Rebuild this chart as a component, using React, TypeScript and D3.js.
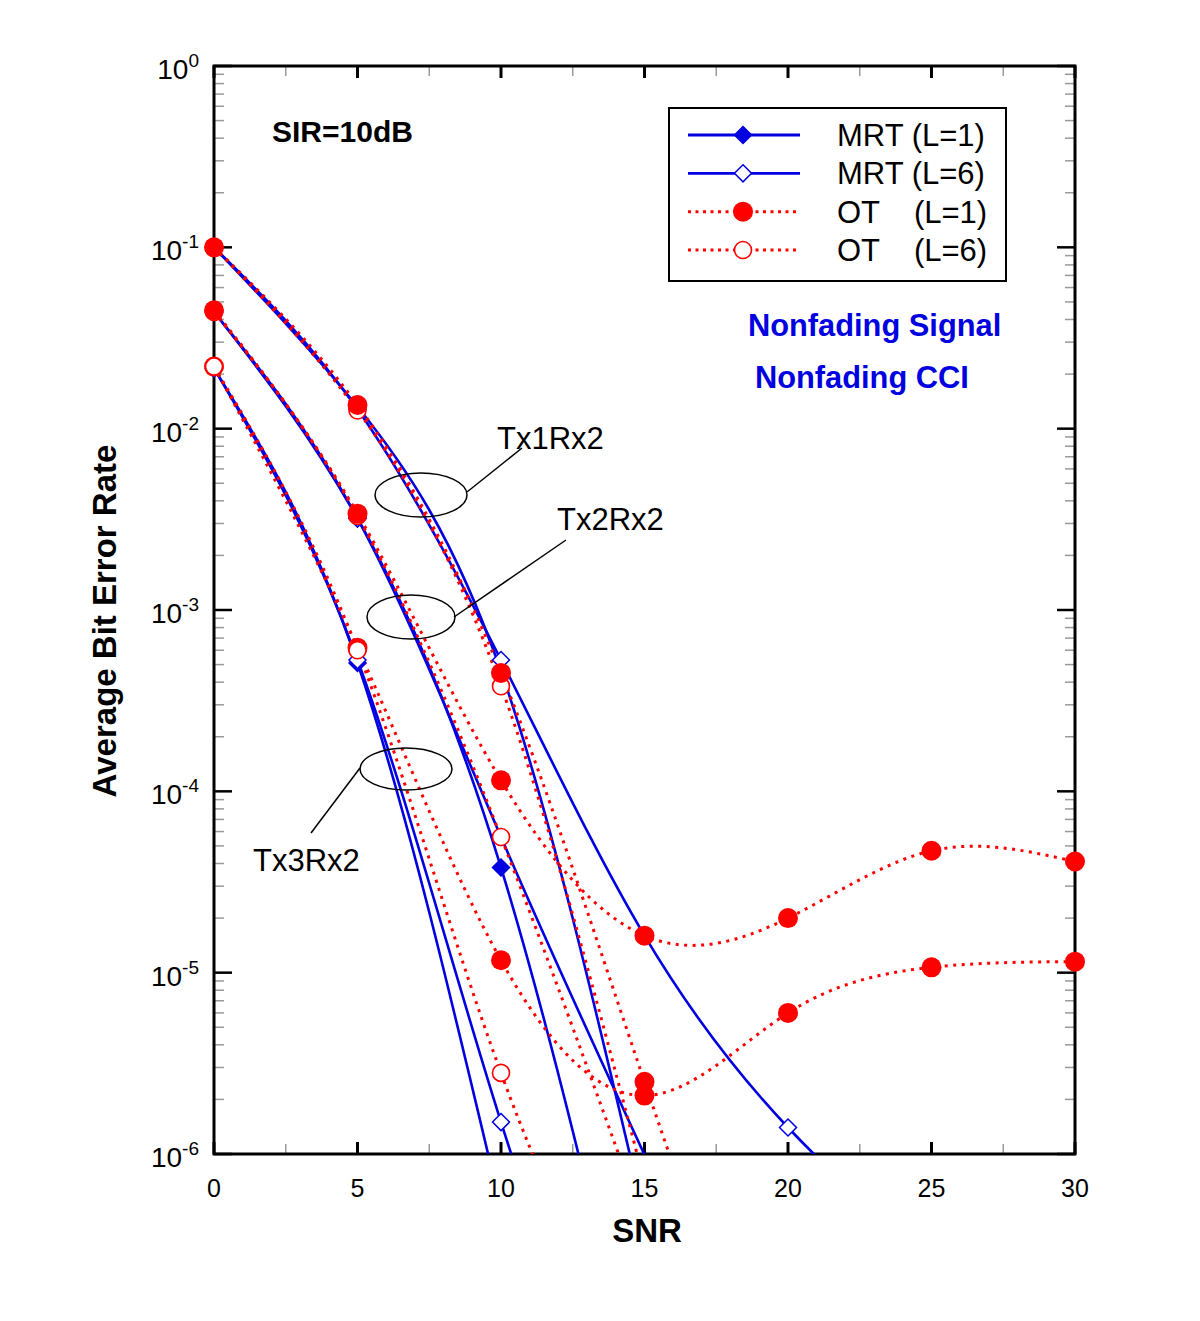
import React, { useEffect, useRef } from "react"
import * as d3 from "d3"

// SNR grid (dB) shared by all curves
const snr = [0, 5, 10, 15, 20, 25, 30]

// Tx1Rx2
const mrtL1Tx1 = [0.1, 0.0132, 4.6e-4, 4.5e-7]
const mrtL6Tx1 = [0.1, 0.0128, 5.3e-4, 1.6e-5, 1.4e-6, 2.6e-7]
const otL1Tx1 = [0.1, 0.0135, 4.5e-4, 2.5e-6, 1.5e-8]
const otL6Tx1 = [0.1, 0.0126, 3.8e-4, 7e-7]

// Tx2Rx2
const mrtL1Tx2 = [0.044, 0.0032, 3.8e-5, 3.0e-8]
const mrtL6Tx2 = [0.044, 0.0032, 5.6e-5, 9.9e-7]
const otL1Tx2 = [0.045, 0.0034, 1.15e-4, 1.6e-5, 2.0e-5, 4.7e-5, 4.1e-5]
const otL6Tx2 = [0.044, 0.0033, 5.6e-5, 4e-7]

// Tx3Rx2
const mrtL1Tx3 = [0.0215, 5.1e-4, 5e-7]
const mrtL6Tx3 = [0.0215, 5.3e-4, 1.5e-6, 1e-8]
const otL1Tx3 = [0.022, 6.2e-4, 1.17e-5, 2.1e-6, 6.0e-6, 1.07e-5, 1.15e-5]
const otL6Tx3 = [0.022, 6.0e-4, 2.8e-6, 5e-8]

const legendLabels = ["MRT (L=1)", "MRT (L=6)", "OT    (L=1)", "OT    (L=6)"]
const xTicks = [0, 5, 10, 15, 20, 25, 30]
const yExponents = [0, -1, -2, -3, -4, -5, -6]

type Kind = "mrt1" | "mrt6" | "ot1" | "ot6"

const BLUE = "#0000e0"
const RED = "#ff0000"
const FONT = "'Liberation Sans', Arial, Helvetica, sans-serif"

const series: { kind: Kind; values: number[] }[] = [
    { kind: "mrt1", values: mrtL1Tx1 },
    { kind: "mrt6", values: mrtL6Tx1 },
    { kind: "mrt1", values: mrtL1Tx2 },
    { kind: "mrt6", values: mrtL6Tx2 },
    { kind: "mrt1", values: mrtL1Tx3 },
    { kind: "mrt6", values: mrtL6Tx3 },
    { kind: "ot6", values: otL6Tx1 },
    { kind: "ot1", values: otL1Tx1 },
    { kind: "ot6", values: otL6Tx2 },
    { kind: "ot1", values: otL1Tx2 },
    { kind: "ot1", values: otL1Tx3 },
    { kind: "ot6", values: otL6Tx3 },
]

export default function App() {
    const ref = useRef<SVGSVGElement>(null)

    useEffect(() => {
        if (!ref.current) return
        const svg = d3.select(ref.current)
        svg.selectAll("*").remove()

        const left = 214
        const right = 1075
        const top = 66
        const bottom = 1154

        const x = d3.scaleLinear().domain([0, 30]).range([left, right])
        const y = d3.scaleLog().domain([1e-6, 1]).range([bottom, top])

        // ticks (inward, mirrored on all sides)
        const ticks = svg.append("g")
        const minorY: number[] = []
        for (let e = -6; e < 0; e++) for (let m = 2; m <= 9; m++) minorY.push(m * Math.pow(10, e))
        minorY.forEach((v) => {
            ticks.append("line").attr("x1", left).attr("x2", left + 10).attr("y1", y(v)).attr("y2", y(v)).attr("stroke", "#9a9a9a").attr("stroke-width", 1.5)
            ticks.append("line").attr("x1", right).attr("x2", right - 10).attr("y1", y(v)).attr("y2", y(v)).attr("stroke", "#9a9a9a").attr("stroke-width", 1.5)
        })
        yExponents.forEach((e) => {
            const yy = y(Math.pow(10, e))
            ticks.append("line").attr("x1", left).attr("x2", left + 18).attr("y1", yy).attr("y2", yy).attr("stroke", "#000").attr("stroke-width", 2.5)
            ticks.append("line").attr("x1", right).attr("x2", right - 18).attr("y1", yy).attr("y2", yy).attr("stroke", "#000").attr("stroke-width", 2.5)
            const t = svg.append("text").attr("x", 199).attr("y", yy + 13).attr("text-anchor", "end").attr("font-family", FONT).attr("font-size", 28)
            t.append("tspan").text("10")
            t.append("tspan").attr("dy", -12).attr("font-size", 19).text(String(e))
        })
        d3.range(2.5, 30, 5).forEach((v) => {
            ticks.append("line").attr("x1", x(v)).attr("x2", x(v)).attr("y1", bottom).attr("y2", bottom - 10).attr("stroke", "#9a9a9a").attr("stroke-width", 1.5)
            ticks.append("line").attr("x1", x(v)).attr("x2", x(v)).attr("y1", top).attr("y2", top + 10).attr("stroke", "#9a9a9a").attr("stroke-width", 1.5)
        })
        xTicks.forEach((v) => {
            ticks.append("line").attr("x1", x(v)).attr("x2", x(v)).attr("y1", bottom).attr("y2", bottom - 12).attr("stroke", "#000").attr("stroke-width", 3)
            ticks.append("line").attr("x1", x(v)).attr("x2", x(v)).attr("y1", top).attr("y2", top + 12).attr("stroke", "#000").attr("stroke-width", 3)
            svg.append("text").attr("x", x(v)).attr("y", bottom + 43).attr("text-anchor", "middle").attr("font-family", FONT).attr("font-size", 25).text(String(v))
        })

        // frame
        svg.append("rect").attr("x", left).attr("y", top).attr("width", right - left).attr("height", bottom - top).attr("fill", "none").attr("stroke", "#000").attr("stroke-width", 3)

        // axis titles
        svg.append("text").attr("x", 647).attr("y", 1242).attr("text-anchor", "middle").attr("font-family", FONT).attr("font-weight", "bold").attr("font-size", 33).text("SNR")
        svg.append("text").attr("transform", "translate(116,621) rotate(-90)").attr("text-anchor", "middle").attr("font-family", FONT).attr("font-weight", "bold").attr("font-size", 33).text("Average Bit Error Rate")

        // curves
        svg.append("clipPath").attr("id", "plot-clip").append("rect").attr("x", left).attr("y", top).attr("width", right - left).attr("height", bottom - top)
        const line = d3
            .line<number>()
            .x((d, i) => x(snr[i]))
            .y((d) => y(d))
            .curve(d3.curveNatural)
        const curves = svg.append("g").attr("clip-path", "url(#plot-clip)")
        series.forEach((s) => {
            const isMrt = s.kind === "mrt1" || s.kind === "mrt6"
            curves
                .append("path")
                .attr("d", line(s.values))
                .attr("fill", "none")
                .attr("stroke", isMrt ? BLUE : RED)
                .attr("stroke-width", isMrt ? 2.6 : 3)
                .attr("stroke-dasharray", isMrt ? null : "3 5.5")
        })

        const drawMarker = (g: d3.Selection<SVGGElement, unknown, null, undefined>, kind: Kind, cx: number, cy: number) => {
            if (kind === "mrt1" || kind === "mrt6") {
                const r = 8.5
                g.append("path")
                    .attr("d", `M${cx},${cy - r}L${cx + r},${cy}L${cx},${cy + r}L${cx - r},${cy}Z`)
                    .attr("fill", kind === "mrt1" ? BLUE : "#fff")
                    .attr("stroke", BLUE)
                    .attr("stroke-width", 1.5)
            } else if (kind === "ot1") {
                g.append("circle").attr("cx", cx).attr("cy", cy).attr("r", 10).attr("fill", RED)
            } else {
                g.append("circle").attr("cx", cx).attr("cy", cy).attr("r", 8.5).attr("fill", "#fff").attr("stroke", RED).attr("stroke-width", 1.6)
            }
        }

        const markers = svg.append("g")
        series.forEach((s) => {
            s.values.forEach((v, i) => {
                if (v < 1e-6 || v > 1) return
                drawMarker(markers, s.kind, x(snr[i]), y(v))
            })
        })

        // legend
        const legend = svg.append("g")
        legend.append("rect").attr("x", 669).attr("y", 108).attr("width", 337).attr("height", 173).attr("fill", "#fff").attr("stroke", "#000").attr("stroke-width", 2)
        const kinds: Kind[] = ["mrt1", "mrt6", "ot1", "ot6"]
        const rowY = d3.scalePoint<number>().domain([0, 1, 2, 3]).range([135, 250])
        kinds.forEach((k, i) => {
            const yy = rowY(i)!
            const isMrt = k === "mrt1" || k === "mrt6"
            legend
                .append("line")
                .attr("x1", 688)
                .attr("x2", 800)
                .attr("y1", yy)
                .attr("y2", yy)
                .attr("stroke", isMrt ? BLUE : RED)
                .attr("stroke-width", isMrt ? 2.8 : 3)
                .attr("stroke-dasharray", isMrt ? null : "3 4.5")
            drawMarker(legend, k, 743, yy)
            legend
                .append("text")
                .attr("x", 837)
                .attr("y", yy + 11)
                .attr("font-family", FONT)
                .attr("font-size", 31)
                .attr("xml:space", "preserve")
                .style("white-space", "pre")
                .text(legendLabels[i])
        })

        // annotations
        svg.append("text").attr("x", 272).attr("y", 142).attr("font-family", FONT).attr("font-weight", "bold").attr("font-size", 30).text("SIR=10dB")
        svg.append("text").attr("x", 748).attr("y", 336).attr("font-family", FONT).attr("font-weight", "bold").attr("font-size", 30.8).attr("fill", BLUE).text("Nonfading Signal")
        svg.append("text").attr("x", 755).attr("y", 388).attr("font-family", FONT).attr("font-weight", "bold").attr("font-size", 30.8).attr("fill", BLUE).text("Nonfading CCI")

        const notes = [
            { label: "Tx1Rx2", cx: 421, cy: 495, rx: 46, ry: 22, lx1: 467, ly1: 492, lx2: 522, ly2: 448, tx: 497, ty: 449 },
            { label: "Tx2Rx2", cx: 411, cy: 617, rx: 44, ry: 22, lx1: 454, ly1: 617, lx2: 566, ly2: 540, tx: 557, ty: 530 },
            { label: "Tx3Rx2", cx: 406, cy: 769, rx: 46, ry: 21, lx1: 360, ly1: 768, lx2: 311, ly2: 833, tx: 253, ty: 871 },
        ]
        notes.forEach((n) => {
            svg.append("ellipse").attr("cx", n.cx).attr("cy", n.cy).attr("rx", n.rx).attr("ry", n.ry).attr("fill", "none").attr("stroke", "#000").attr("stroke-width", 1.5)
            svg.append("line").attr("x1", n.lx1).attr("y1", n.ly1).attr("x2", n.lx2).attr("y2", n.ly2).attr("stroke", "#000").attr("stroke-width", 1.5)
            svg.append("text").attr("x", n.tx).attr("y", n.ty).attr("font-family", FONT).attr("font-size", 31).text(n.label)
        })
    }, [])

    return (
        <div style={{ position: "absolute", left: 0, top: 0, background: "#fff" }}>
            <svg ref={ref} width={1200} height={1321} style={{ display: "block" }} />
        </div>
    )
}
